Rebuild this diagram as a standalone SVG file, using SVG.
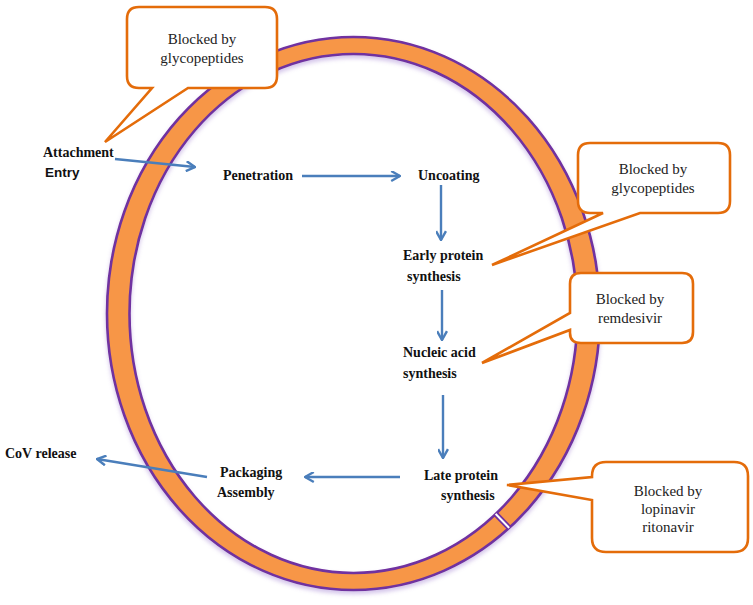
<svg xmlns="http://www.w3.org/2000/svg" width="753" height="605" viewBox="0 0 753 605">
<style>
.lbl{font-family:"Liberation Serif","Times New Roman",serif;font-weight:bold;font-size:14px;fill:#111}
.sans{font-family:"Liberation Sans",Arial,sans-serif;font-weight:bold;font-size:13.5px;fill:#111}
.co{fill:#fff;stroke:#E46C0A;stroke-width:2.6;stroke-linejoin:miter}
.ct{font-family:"Liberation Serif","Times New Roman",serif;font-size:15px;fill:#222;text-anchor:middle}
.arr{stroke:#4A7EBB;stroke-width:2.4;fill:none;marker-end:url(#ah)}
</style>
<defs>
<marker id="ah" viewBox="0 0 10 10" refX="9" refY="5" markerWidth="11" markerHeight="11" markerUnits="userSpaceOnUse" orient="auto">
<path d="M1,0.5 L9,5 L1,9.5" fill="none" stroke="#4A7EBB" stroke-width="2.2"/>
</marker>
<filter id="sh" x="-10%" y="-10%" width="120%" height="120%">
<feDropShadow dx="0" dy="3" stdDeviation="2" flood-color="#9F7FD0" flood-opacity="0.45"/>
</filter>
<clipPath id="ringclip">
<path clip-rule="evenodd" d="M107,313.5 a246.5,276.5 0 1,0 493,0 a246.5,276.5 0 1,0 -493,0 Z M129.5,313.5 a224,259.5 0 1,0 448,0 a224,259.5 0 1,0 -448,0 Z"/>
</clipPath>
</defs>
<rect width="753" height="605" fill="#fff"/>
<g id="ring">
<path filter="url(#sh)" fill="#F79646" fill-rule="evenodd" stroke="#7030A0" stroke-width="2.6" d="M107,313.5 a246.5,276.5 0 1,0 493,0 a246.5,276.5 0 1,0 -493,0 Z M129.5,313.5 a224,259.5 0 1,0 448,0 a224,259.5 0 1,0 -448,0 Z"/>
<g clip-path="url(#ringclip)">
<line x1="490" y1="508" x2="516" y2="535" stroke="#7030A0" stroke-width="5.5"/>
<line x1="490" y1="508" x2="516" y2="535" stroke="#fff" stroke-width="2"/>
</g>
</g>
<g id="connectors">
<line class="arr" x1="115" y1="159" x2="195" y2="167"/>
<line class="arr" x1="302" y1="176" x2="400" y2="176"/>
<line class="arr" x1="441" y1="185" x2="441" y2="240"/>
<line class="arr" x1="442" y1="290" x2="442" y2="340"/>
<line class="arr" x1="443" y1="395" x2="443" y2="458"/>
<line class="arr" x1="400" y1="477" x2="305" y2="477"/>
<line class="arr" x1="207" y1="477" x2="97" y2="459"/>
</g>
<g id="attachment"><text class="lbl" x="43" y="157">Attachment</text><text class="sans" x="45" y="177">Entry</text></g>
<g id="penetration"><text class="lbl" x="223" y="180">Penetration</text></g>
<g id="uncoating"><text class="lbl" x="418" y="180">Uncoating</text></g>
<g id="early"><text class="lbl" x="403" y="260">Early protein</text><text class="lbl" x="407" y="281">synthesis</text></g>
<g id="nucleic"><text class="lbl" x="403" y="357">Nucleic acid</text><text class="lbl" x="403" y="378">synthesis</text></g>
<g id="late"><text class="lbl" x="424" y="480">Late protein</text><text class="lbl" x="441" y="500">synthesis</text></g>
<g id="packaging"><text class="lbl" x="220" y="477">Packaging</text><text class="lbl" x="217" y="497">Assembly</text></g>
<g id="release"><text class="lbl" x="5" y="458">CoV release</text></g>
<g id="callout1">
<path class="co" d="M139,7 H265 Q277,7 277,19 V76 Q277,88 265,88 H188 L105,142 L152,88 H139 Q127,88 127,76 V19 Q127,7 139,7 Z"/>
<text class="ct" x="202" y="44">Blocked by</text><text class="ct" x="202" y="63">glycopeptides</text>
</g>
<g id="callout2">
<path class="co" d="M590,143 H718 Q730,143 730,155 V201 Q730,213 718,213 H640 L492,265 L603,213 H590 Q578,213 578,201 V155 Q578,143 590,143 Z"/>
<text class="ct" x="653" y="174">Blocked by</text><text class="ct" x="653" y="193">glycopeptides</text>
</g>
<g id="callout3">
<path class="co" d="M581,273 H682 Q693,273 693,284 V332 Q693,343 682,343 H581 Q570,343 570,333 V330 L482,363 L570,313 V284 Q570,273 581,273 Z"/>
<text class="ct" x="630" y="304">Blocked by</text><text class="ct" x="630" y="323">remdesivir</text>
</g>
<g id="callout4">
<path class="co" d="M606,462 H734 Q748,462 748,476 V538 Q748,552 734,552 H606 Q592,552 592,538 V500 L507,485 L592,477 V476 Q592,462 606,462 Z"/>
<text class="ct" x="668" y="496">Blocked by</text><text class="ct" x="668" y="514">lopinavir</text><text class="ct" x="668" y="532">ritonavir</text>
</g>
</svg>
